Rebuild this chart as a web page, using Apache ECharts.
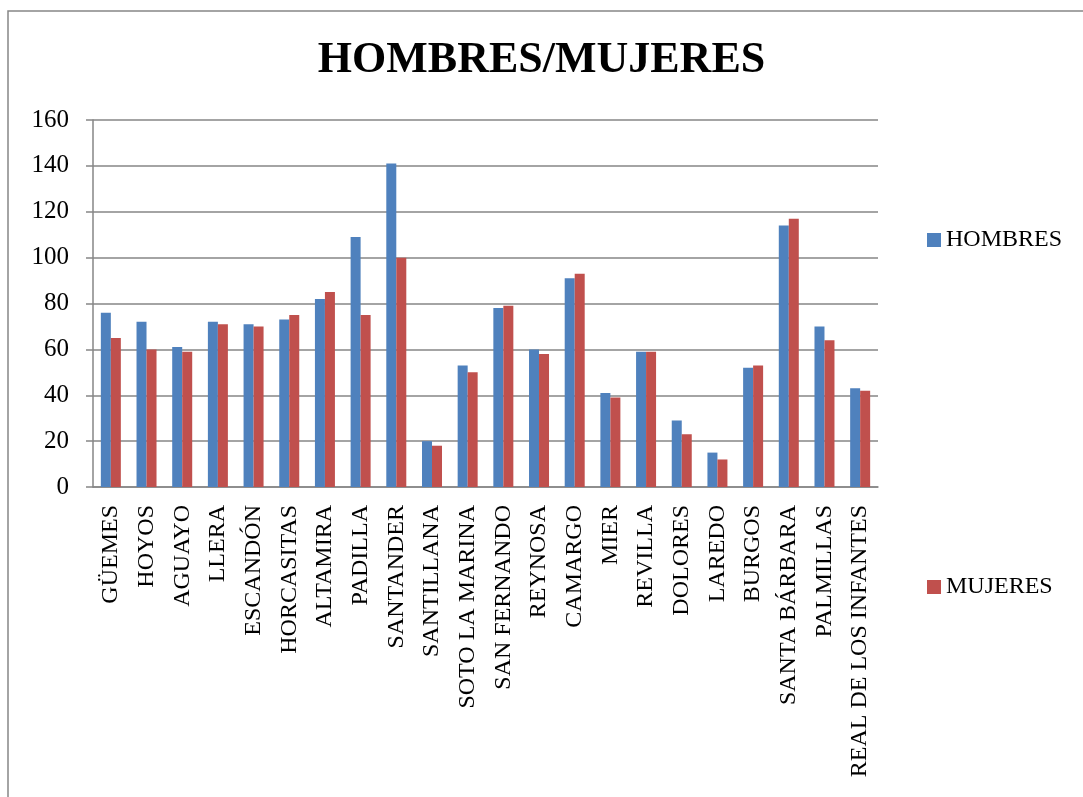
<!DOCTYPE html>
<html>
<head>
<meta charset="utf-8">
<title>HOMBRES/MUJERES</title>
<script src="https://cdn.jsdelivr.net/npm/echarts@6/dist/echarts.min.js"></script>
<style>
  html, body { margin: 0; padding: 0; background: #fff; }
  #chart { width: 1083px; height: 797px; }
</style>
</head>
<body>
<div id="chart"></div>
<script>
// hombres / mujeres por municipio
var municipios = ['GÜEMES', 'HOYOS', 'AGUAYO', 'LLERA', 'ESCANDÓN', 'HORCASITAS', 'ALTAMIRA',
    'PADILLA', 'SANTANDER', 'SANTILLANA', 'SOTO LA MARINA', 'SAN FERNANDO', 'REYNOSA',
    'CAMARGO', 'MIER', 'REVILLA', 'DOLORES', 'LAREDO', 'BURGOS', 'SANTA BÁRBARA',
    'PALMILLAS', 'REAL DE LOS INFANTES'];
var hombres = [76, 72, 61, 72, 71, 73, 82, 109, 141, 20, 53, 78, 60, 91, 41, 59, 29, 15, 52, 114, 70, 43];
var mujeres = [65, 60, 59, 71, 70, 75, 85, 75, 100, 18, 50, 79, 58, 93, 39, 59, 23, 12, 53, 117, 64, 42];
var yMin = 0, yMax = 160, yStep = 20;

var chart = echarts.init(document.getElementById('chart'));
var serif = '"Liberation Serif", "DejaVu Serif", serif';
var gris = '#868686';

var option = {
    animation: false,
    backgroundColor: '#fff',
    title: {
        text: 'HOMBRES/MUJERES',
        left: 'center',
        top: 34,
        textStyle: {
            fontFamily: serif,
            fontSize: 44,
            fontWeight: 'bold',
            color: '#000'
        }
    },
    graphic: [{
        type: 'rect',
        shape: { x: 8, y: 11, width: 1200, height: 900 },
        style: { fill: null, stroke: gris, lineWidth: 1.5 },
        silent: true
    }],
    color: ['#4F81BD', '#C0504D'],
    legend: [
        {
            data: ['HOMBRES'],
            left: 922,
            top: 222,
            itemWidth: 14,
            itemHeight: 14,
            itemGap: 6,
            icon: 'rect',
            textStyle: { fontFamily: serif, fontSize: 24, color: '#000', lineHeight: 26 }
        },
        {
            data: ['MUJERES'],
            left: 922,
            top: 569,
            itemWidth: 14,
            itemHeight: 14,
            itemGap: 6,
            icon: 'rect',
            textStyle: { fontFamily: serif, fontSize: 24, color: '#000', lineHeight: 26 }
        }
    ],
    grid: {
        left: 93,
        right: 205,
        top: 120,
        bottom: 310
    },
    xAxis: {
        type: 'category',
        data: municipios,
        axisLine: { lineStyle: { color: gris, width: 1.5 } },
        axisTick: { length: 8, lineStyle: { color: gris, width: 1.5 } },
        axisLabel: {
            interval: 0,
            rotate: 90,
            margin: 18,
            fontFamily: serif,
            fontSize: 24,
            color: '#000'
        }
    },
    yAxis: {
        type: 'value',
        min: yMin,
        max: yMax,
        interval: yStep,
        axisLine: { show: true, lineStyle: { color: gris, width: 1.5 } },
        axisTick: { show: true, length: 7, lineStyle: { color: gris, width: 1.5 } },
        splitLine: { lineStyle: { color: gris, width: 1.5 } },
        axisLabel: {
            margin: 24,
            fontFamily: serif,
            fontSize: 25,
            color: '#000'
        }
    },
    series: [
        {
            name: 'HOMBRES',
            type: 'bar',
            data: hombres,
            barWidth: 10,
            barGap: '0%'
        },
        {
            name: 'MUJERES',
            type: 'bar',
            data: mujeres,
            barWidth: 10,
            barGap: '0%'
        }
    ]
};
chart.setOption(option);
</script>
</body>
</html>
